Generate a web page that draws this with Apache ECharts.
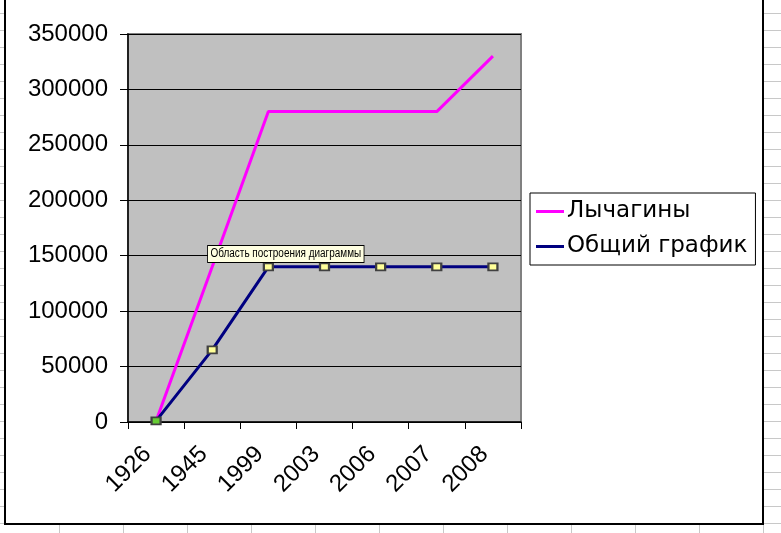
<!DOCTYPE html>
<html>
<head>
<meta charset="utf-8">
<script src="https://cdn.jsdelivr.net/npm/echarts@6/dist/echarts.min.js"></script>
<style>
html,body{margin:0;padding:0;background:#fff;}
#chart{width:781px;height:533px;}
</style>
</head>
<body>
<div id="chart"></div>
<script>
var categories = ['1926', '1945', '1999', '2003', '2006', '2007', '2008'];
var lychaginy = [1000, 140000, 280000, 280000, 280000, 280000, 330000];
var obshchiy = [1000, 65000, 140000, 140000, 140000, 140000, 140000];
var seriesNames = ['Лычагины', 'Общий график'];
var yTicks = { min: 0, max: 350000, interval: 50000 };

var FONT = '"Liberation Sans", Arial, sans-serif';
var chart = echarts.init(document.getElementById('chart'), null, { renderer: 'canvas' });

// Spreadsheet background cells (decorative, outside the chart frame)
var sheet = [];
var lineCol = '#c8c8c8';
for (var k = 0; k < 32; k++) {
  var y = 13.5 + 17 * k;
  if (y < 524) {
    sheet.push({ type: 'line', shape: { x1: 0, y1: y, x2: 5, y2: y }, style: { stroke: lineCol, lineWidth: 1 }, z: -10 });
    sheet.push({ type: 'line', shape: { x1: 763, y1: y, x2: 781, y2: y }, style: { stroke: lineCol, lineWidth: 1 }, z: -10 });
  } else {
    sheet.push({ type: 'line', shape: { x1: 0, y1: y, x2: 781, y2: y }, style: { stroke: lineCol, lineWidth: 1 }, z: -10 });
  }
}
for (var c = 0; c < 13; c++) {
  var x = 59 + 64 * c + 0.5;
  sheet.push({ type: 'line', shape: { x1: x, y1: 524, x2: x, y2: 533 }, style: { stroke: lineCol, lineWidth: 1 }, z: -10 });
}
// chart frame
sheet.push({ type: 'polyline', shape: { points: [[5, -5], [5, 524], [763, 524], [763, -5]] }, style: { stroke: '#000', lineWidth: 2, fill: null }, z: 1 });
// tooltip box
sheet.push({
  type: 'text', x: 208, y: 246, scaleX: 0.83, z: 200,
  style: {
    x: 0, y: 0,
    text: 'Область построения диаграммы',
    fontSize: 12,
    fontFamily: FONT,
    fill: '#000',
    backgroundColor: '#FFFFE1',
    borderColor: '#000',
    borderWidth: 1,
    padding: [2, 3, 2, 3]
  }
});

var symStyle = { color: '#FFFF99', borderColor: '#404040', borderWidth: 2 };
var navyData = obshchiy.map(function (v, i) {
  if (i === 0) return { value: v, itemStyle: { color: '#66CC33', borderColor: '#404040', borderWidth: 2 } };
  return v;
});

chart.setOption({
  backgroundColor: '#fff',
  animation: false,
  textStyle: { fontFamily: FONT },
  graphic: sheet,
  grid: {
    left: 128, top: 34, width: 393, height: 388,
    show: true, backgroundColor: '#C0C0C0', borderColor: '#808080', borderWidth: 2
  },
  legend: {
    orient: 'vertical',
    left: 530, top: 193,
    width: 227,
    padding: [7, 8, 7, 6],
    itemGap: 12,
    itemWidth: 28, itemHeight: 3,
    borderColor: '#000', borderWidth: 1,
    backgroundColor: '#fff',
    textStyle: { fontSize: 23, color: '#000', fontFamily: '"DejaVu Sans", Verdana, sans-serif', padding: [0, 0, 0, -2] },
    data: [
      { name: seriesNames[0], icon: 'rect', itemStyle: { color: '#FF00FF', borderWidth: 0 } },
      { name: seriesNames[1], icon: 'rect', itemStyle: { color: '#000080', borderWidth: 0 } }
    ]
  },
  xAxis: {
    type: 'category',
    data: categories,
    boundaryGap: true,
    axisLine: { lineStyle: { color: '#000', width: 1.5 } },
    axisTick: { show: true, length: 7, inside: false, lineStyle: { color: '#000' } },
    axisLabel: { rotate: 45, fontSize: 24, color: '#000', margin: 20, interval: 0, fontFamily: FONT, padding: [0, 12, 0, 0] },
    splitLine: { show: false }
  },
  yAxis: {
    type: 'value',
    min: yTicks.min, max: yTicks.max, interval: yTicks.interval,
    axisLine: { show: true, lineStyle: { color: '#000', width: 1.5 } },
    axisTick: { show: true, length: 8, lineStyle: { color: '#000' } },
    axisLabel: { fontSize: 24, color: '#000', margin: 20, fontFamily: FONT, formatter: function (v) { return String(v); } },
    splitLine: { show: true, lineStyle: { color: '#000', width: 1 } }
  },
  series: [
    {
      name: seriesNames[0], type: 'line', data: lychaginy,
      showSymbol: false, symbol: 'none',
      lineStyle: { color: '#FF00FF', width: 3 }, itemStyle: { color: '#FF00FF' }, z: 3
    },
    {
      name: seriesNames[1], type: 'line', data: navyData,
      symbol: 'rect', symbolSize: [9, 7], showSymbol: true,
      lineStyle: { color: '#000080', width: 3 }, itemStyle: symStyle, z: 4
    }
  ]
});
</script>
</body>
</html>
